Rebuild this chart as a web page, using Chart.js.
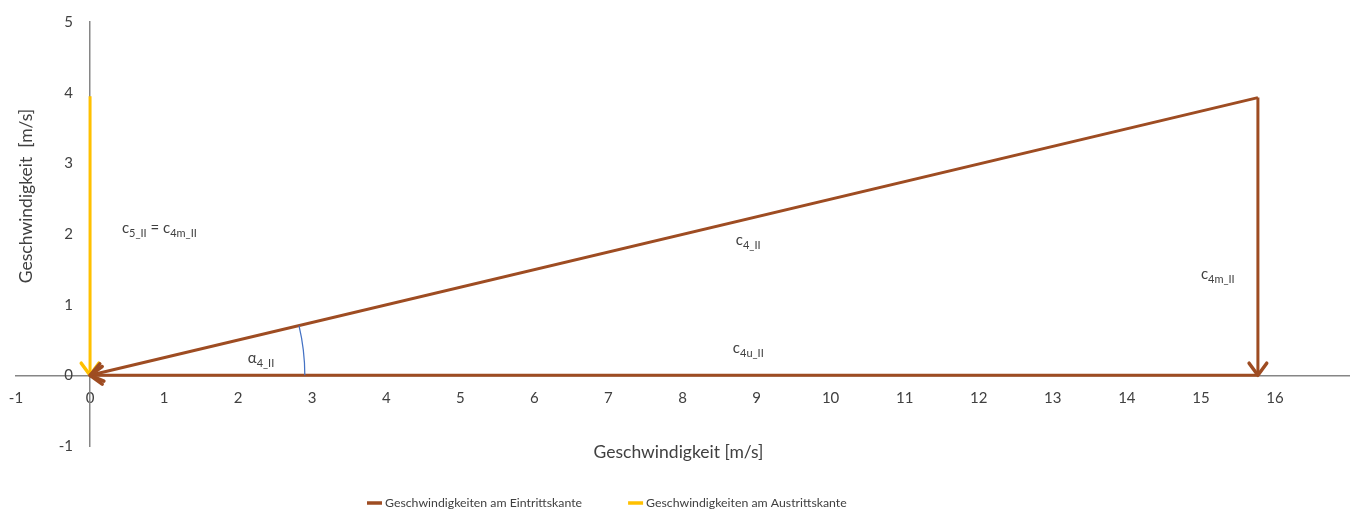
<!DOCTYPE html>
<html lang="de">
<head>
<meta charset="utf-8">
<title>Geschwindigkeitsdreieck</title>
<script src="https://cdn.jsdelivr.net/npm/chart.js@4.4.1/dist/chart.umd.min.js"></script>
<style>
  html, body { margin: 0; padding: 0; background: #fff; overflow: hidden; }
  #wrap { width: 1356px; height: 511px; position: relative; }
</style>
</head>
<body>
<div id="wrap"><canvas id="triangleChart"></canvas></div>
<script>
// Geschwindigkeiten in m/s

// Eintrittskante: jede Strecke endet mit einer Pfeilspitze am letzten Punkt
const c4mPoints = [{ x: 15.77, y: 3.93 }, { x: 15.77, y: 0 }];
const c4uPoints = [{ x: 15.77, y: 0 }, { x: 0, y: 0 }];
const c4Points = [{ x: 15.77, y: 3.93 }, { x: 0, y: 0 }];

// Austrittskante
const c5Points = [{ x: 0, y: 3.95 }, { x: 0, y: 0 }];

const xTicks = [-1, 0, 1, 2, 3, 4, 5, 6, 7, 8, 9, 10, 11, 12, 13, 14, 15, 16];
const yTicks = [-1, 0, 1, 2, 3, 4, 5];

const seriesNames = ["Geschwindigkeiten am Eintrittskante", "Geschwindigkeiten am Austrittskante"];

// Winkel α zwischen c4 und c4u, Radius in m/s
const alphaRadius = 2.9;

// Beschriftungen: [Text, tiefgestellt] Paare, Position = Anfang der Grundlinie
const vectorLabels = [
  { x: 0.43, y: 2.01, parts: [["c", false], ["5_II", true], [" = c", false], ["4m_II", true]] },
  { x: 8.72, y: 1.84, parts: [["c", false], ["4_II", true]] },
  { x: 15.0, y: 1.37, parts: [["c", false], ["4m_II", true]] },
  { x: 8.68, y: 0.31, parts: [["c", false], ["4u_II", true]] },
  { x: 2.13, y: 0.18, parts: [["α", false], ["4_II", true]] }
];

const BROWN = "#9e4c22";
const YELLOW = "#ffc000";
const AXIS_GREY = "#868686";
const TEXT = "#404040";
const FONT = "Lato, 'Open Sans', sans-serif";

const arrowHeads = {
  id: "arrowHeads",
  afterDatasetsDraw(chart) {
    const ctx = chart.ctx;
    // Reihenfolge wie die Linien: letzter Datensatz zuerst, damit Braun oben liegt
    for (let i = chart.data.datasets.length - 1; i >= 0; i--) {
      const ds = chart.data.datasets[i];
      const pts = chart.getDatasetMeta(i).data;
      if (pts.length < 2) continue;
      const tip = pts[pts.length - 1];
      const from = pts[pts.length - 2];
      const ang = Math.atan2(tip.y - from.y, tip.x - from.x);
      const len = 15, spread = Math.PI / 5;
      ctx.save();
      ctx.strokeStyle = ds.borderColor;
      ctx.lineWidth = ds.borderWidth + 0.5;
      ctx.lineJoin = "round";
      ctx.lineCap = "round";
      ctx.beginPath();
      ctx.moveTo(tip.x - len * Math.cos(ang - spread), tip.y - len * Math.sin(ang - spread));
      ctx.lineTo(tip.x, tip.y);
      ctx.lineTo(tip.x - len * Math.cos(ang + spread), tip.y - len * Math.sin(ang + spread));
      ctx.stroke();
      ctx.restore();
    }
  }
};

// Y-Beschriftung links neben der Achse bei x = 0 (Chart.js setzt sie sonst direkt an die Achse)
const yLabelOffset = {
  id: "yLabelOffset",
  beforeDraw(chart) {
    const items = chart.scales.y.getLabelItems();
    if (items._shifted) return;
    items.forEach(it => { it.options.translation[0] -= 17; });
    items._shifted = true;
  }
};

const annotations = {
  id: "annotations",
  afterDatasetsDraw(chart) {
    const { ctx, scales: { x, y }, chartArea } = chart;
    ctx.save();

    // Winkelbogen α
    const ox = x.getPixelForValue(0), oy = y.getPixelForValue(0);
    const r = x.getPixelForValue(alphaRadius) - ox;
    const end = c4Points[0];
    const ang = Math.atan2(y.getPixelForValue(end.y) - oy, x.getPixelForValue(end.x) - ox);
    ctx.strokeStyle = "#4472c4";
    ctx.lineWidth = 1.25;
    ctx.beginPath();
    ctx.arc(ox, oy, r, ang, 0);
    ctx.stroke();

    // Vektorbezeichnungen
    ctx.fillStyle = TEXT;
    ctx.textBaseline = "alphabetic";
    ctx.textAlign = "left";
    vectorLabels.forEach(lab => {
      let px = x.getPixelForValue(lab.x);
      const py = y.getPixelForValue(lab.y);
      lab.parts.forEach(([txt, sub]) => {
        ctx.font = (sub ? "11px " : "15px ") + FONT;
        ctx.fillText(txt, px, sub ? py + 4 : py);
        px += ctx.measureText(txt).width;
      });
    });

    // Achsentitel
    ctx.font = "17.5px " + FONT;
    ctx.textAlign = "center";
    ctx.textBaseline = "middle";
    ctx.fillText("Geschwindigkeit [m/s]", (chartArea.left + chartArea.right) / 2 - 4, chartArea.bottom + 6);
    ctx.save();
    ctx.translate(26, chartArea.top + 174);
    ctx.rotate(-Math.PI / 2);
    ctx.fillText("Geschwindigkeit  [m/s]", 0, 0);
    ctx.restore();

    // Legende
    ctx.font = "12.3px " + FONT;
    ctx.textAlign = "left";
    const ly = chart.height - 8;
    let lx = 367;
    chart.data.datasets.filter(ds => ds.inLegend).forEach(ds => {
      ctx.strokeStyle = ds.borderColor;
      ctx.lineWidth = 3.5;
      ctx.beginPath();
      ctx.moveTo(lx, ly);
      ctx.lineTo(lx + 15, ly);
      ctx.stroke();
      ctx.fillStyle = TEXT;
      ctx.fillText(ds.label, lx + 18, ly);
      lx += 18 + ctx.measureText(ds.label).width + 46;
    });
    ctx.restore();
  }
};

function lineSet(label, data, color, inLegend) {
  return {
    label, data,
    borderColor: color,
    backgroundColor: color,
    borderWidth: 3,
    showLine: true,
    pointRadius: 0,
    pointHoverRadius: 0,
    fill: false,
    inLegend
  };
}

function noPadding(s) {
  s.paddingTop = 0; s.paddingBottom = 0; s.paddingLeft = 0; s.paddingRight = 0;
}

new Chart(document.getElementById("triangleChart"), {
  type: "scatter",
  data: {
    datasets: [
      lineSet(seriesNames[0], c4uPoints, BROWN, true),
      lineSet(seriesNames[0], c4mPoints, BROWN, false),
      lineSet(seriesNames[0], c4Points, BROWN, false),
      lineSet(seriesNames[1], c5Points, YELLOW, true)
    ]
  },
  options: {
    responsive: true,
    maintainAspectRatio: false,
    animation: false,
    layout: { padding: { left: 16, right: 7, top: 22, bottom: 65 } },
    plugins: {
      tooltip: { enabled: false },
      legend: { display: false }
    },
    scales: {
      x: {
        type: "linear",
        min: -1, max: 17,
        position: { y: 0 },
        afterBuildTicks: s => { s.ticks = xTicks.map(v => ({ value: v })); },
        afterFit: s => { s.height = 0; noPadding(s); },
        grid: { display: false, drawTicks: false },
        border: { display: true, color: AXIS_GREY, width: 1.5 },
        ticks: { padding: 14, color: TEXT, font: { family: FONT, size: 15 } }
      },
      y: {
        type: "linear",
        min: -1, max: 5,
        position: { x: 0 },
        afterBuildTicks: s => { s.ticks = yTicks.map(v => ({ value: v })); },
        afterFit: s => { s.width = 0; noPadding(s); },
        grid: { display: false, drawTicks: false },
        border: { display: true, color: AXIS_GREY, width: 1.5 },
        ticks: { color: TEXT, font: { family: FONT, size: 15 } }
      }
    }
  },
  plugins: [yLabelOffset, arrowHeads, annotations]
});
</script>
</body>
</html>
